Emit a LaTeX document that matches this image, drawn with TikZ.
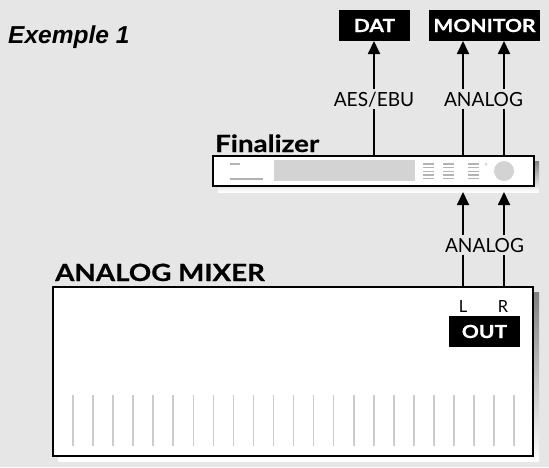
\documentclass[tikz,border=0pt]{standalone}
\usepackage{fontspec}
\usetikzlibrary{arrows.meta}
\newfontfamily\gill{Lato}[FakeStretch=0.98]
\newfontfamily\gillb{Lato}[FakeStretch=1.17,FakeBold=0.6]
\newfontfamily\arialbi{Liberation Sans}
\definecolor{bg}{HTML}{E6E6E6}
\definecolor{shade}{HTML}{999999}
\definecolor{panel}{HTML}{D3D3D3}
\definecolor{fader}{HTML}{CCCCCC}
\tikzset{
  darkbox/.style={fill=black,text=white,inner sep=0pt,font=\gillb\bfseries\fontsize{18}{18}\selectfont},
  unit/.style={draw=black,line width=2pt,fill=white,inner sep=0pt},
  arr/.style={line width=1.8pt,-{Triangle[length=13pt,width=12pt]}},
  lbl/.style={fill=bg,inner sep=2.5pt,font=\gill\fontsize{19.5}{19.5}\selectfont},
  title/.style={inner sep=0pt,anchor=base west,font=\gillb\bfseries\fontsize{23.7}{23.7}\selectfont},
  meter/.style={draw=panel!85!black,line width=1.2pt}
}
\begin{document}
\begin{tikzpicture}[x=1pt,y=-1pt]
\fill[bg] (0,0) rectangle (549,467);
\useasboundingbox (0,0) rectangle (549,467);
% title
\node[inner sep=0pt,anchor=base west,font=\arialbi\bfseries\itshape\fontsize{24.5}{24.5}\selectfont] (ex) at (8,43) {Exemple 1};
% top boxes
\node[darkbox,minimum width=71pt,minimum height=31pt] (dat) at (374.5,25.5) {DAT};
\node[darkbox,minimum width=111pt,minimum height=31pt] (mon) at (484.5,25.5) {MONITOR};
% finalizer
\fill[shade] (218,161) rectangle (539,192);
\node[unit,minimum width=321pt,minimum height=30pt] (fin) at (373.5,171) {};
\node[title] (fint) at (215,152) {Finalizer};
\fill[panel] (274,160) rectangle (415,181);
\draw[meter] (230,164) -- (240,164);
\draw[meter] (230,179) -- (263,179);
\foreach \gx in {423,443,468}{
  \foreach \gy in {164,167.7,171.3,175,178.6}{
    \draw[meter] (\gx,\gy) -- ++(11,0);
  }
}
\fill[panel] (486,164) circle (1.5pt);
\fill[panel] (504,171) circle (10pt);
% mixer
\fill[shade] (58,292) rectangle (539,461);
\node[unit,minimum width=480pt,minimum height=169pt] (mix) at (293,371.5) {};
\node[title] (mixt) at (55,281) {ANALOG MIXER};
\foreach \i in {0,...,22}{
  \draw[fader,line width=1.6pt] ({73+20.05*\i},395) -- ({73+20.05*\i},446);
}
\node[darkbox,minimum width=71pt,minimum height=31pt] (out) at (484.5,331.5) {OUT};
\node[inner sep=0pt,anchor=base,font=\gill\fontsize{16.7}{16.7}\selectfont] (lL) at (463,312) {L};
\node[inner sep=0pt,anchor=base,font=\gill\fontsize{16.7}{16.7}\selectfont] (lR) at (503,312) {R};
% connection points
\coordinate (f1) at (374,156);
\coordinate (f2) at (463,156);
\coordinate (f3) at (504,156);
\coordinate (d1) at (374,41);
\coordinate (m1) at (463,41);
\coordinate (m2) at (504,41);
\coordinate (b1) at (463,192);
\coordinate (b2) at (504,192);
\coordinate (x1) at (463,287);
\coordinate (x2) at (504,287);
\draw[arr] (f1) -- (d1);
\draw[arr] (f2) -- (m1);
\draw[arr] (f3) -- (m2);
\draw[arr] (x1) -- (b1);
\draw[arr] (x2) -- (b2);
\node[lbl,anchor=base] (aes) at (374,106) {AES/EBU};
\node[lbl,anchor=base] (an1) at (483.5,106) {ANALOG};
\node[lbl,anchor=base] (an2) at (484.5,252) {ANALOG};
\end{tikzpicture}
\end{document}
